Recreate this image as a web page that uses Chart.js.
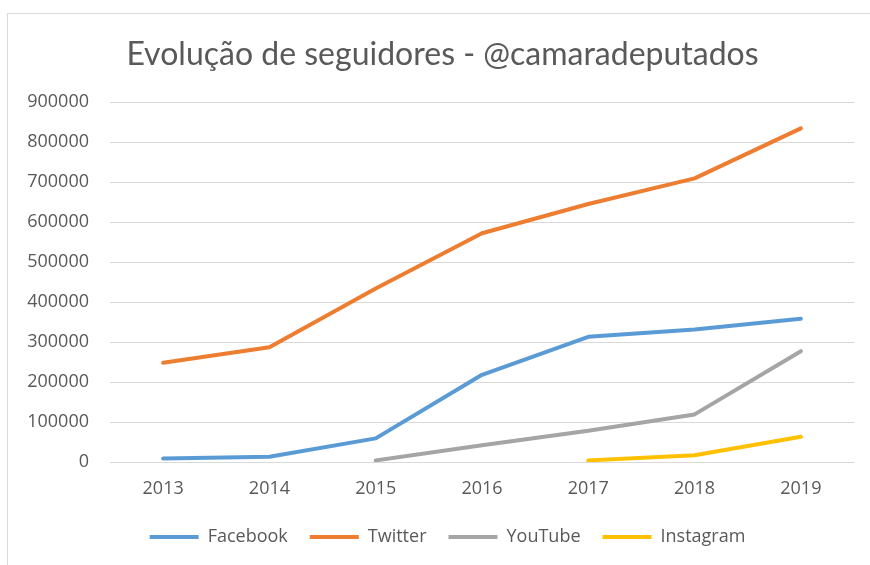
<!DOCTYPE html>
<html>
<head>
<meta charset="utf-8">
<title>Evolução de seguidores</title>
<script src="https://cdn.jsdelivr.net/npm/chart.js@4.4.1/dist/chart.umd.min.js"></script>
<style>
    html, body { margin: 0; padding: 0; background: #fff; }
    #frame {
        position: absolute; left: 7px; top: 13px;
        width: 900px; height: 600px;
        border: 1px solid #d9d9d9;
    }
    #wrap { position: absolute; left: 0; top: 0; width: 870px; height: 565px; }
</style>
</head>
<body>
<div id="frame"></div>
<div id="wrap"><canvas id="followersChart" width="870" height="565"></canvas></div>
<script>
// ====================================
// Data
// ====================================
var years = ['2013', '2014', '2015', '2016', '2017', '2018', '2019'];
var facebook  = [9000, 13000, 59000, 218000, 313000, 331000, 358000];
var twitter   = [248000, 287000, 434000, 572000, 645000, 709000, 834000];
var youtube   = [null, null, 4000, 42000, 78000, 119000, 277000];
var instagram = [null, null, null, null, 4000, 17000, 63000];

var textColor = '#595959';
var gridColor = '#d9d9d9';

function serie(label, data, color) {
    return {
        label: label,
        data: data,
        borderColor: color,
        backgroundColor: color,
        borderWidth: 4,
        borderCapStyle: 'round',
        borderJoinStyle: 'round',
        pointRadius: 0,
        pointHoverRadius: 0,
        tension: 0,
        spanGaps: false
    };
}

// ====================================
// Legend height + centring of title/legend inside the frame
// ====================================
var frameLayout = {
    id: 'frameLayout',
    beforeInit: function(chart) {
        var fit = chart.legend.fit;
        chart.legend.fit = function() {
            fit.bind(chart.legend)();
            this.height = 59;
        };
    },
    afterLayout: function(chart) {
        chart.legend.left = 41;
        chart.titleBlock.left = 31;
    }
};

var ctx = document.getElementById('followersChart').getContext('2d');
new Chart(ctx, {
    type: 'line',
    data: {
        labels: years,
        datasets: [
            serie('Facebook', facebook, '#5b9bd5'),
            serie('Twitter', twitter, '#ed7d31'),
            serie('YouTube', youtube, '#a5a5a5'),
            serie('Instagram', instagram, '#ffc000')
        ]
    },
    plugins: [frameLayout],
    options: {
        responsive: false,
        animation: false,
        layout: {
            padding: { left: 0, right: 16, top: 0, bottom: 0 }
        },
        plugins: {
            title: {
                display: true,
                text: 'Evolução de seguidores - @camaradeputados',
                color: textColor,
                font: { family: 'Lato', size: 32, weight: 'normal' },
                padding: { top: 35, bottom: 28.6 }
            },
            legend: {
                position: 'bottom',
                labels: {
                    color: textColor,
                    font: { family: 'Open Sans', size: 18 },
                    boxWidth: 49,
                    boxHeight: 4,
                    padding: 22,
                    generateLabels: function(chart) {
                        var items = Chart.defaults.plugins.legend.labels.generateLabels(chart);
                        items.forEach(function(item) {
                            item.fillStyle = item.strokeStyle;
                            item.lineWidth = 0;
                        });
                        return items;
                    }
                }
            },
            tooltip: { enabled: false }
        },
        scales: {
            x: {
                offset: true,
                grid: { display: false, drawTicks: false },
                border: { display: false },
                ticks: {
                    color: textColor,
                    font: { family: 'Open Sans', size: 18 },
                    padding: 16,
                    maxRotation: 0
                },
                afterFit: function(scale) { scale.height = 44; }
            },
            y: {
                min: 0,
                max: 900000,
                grid: { color: gridColor, lineWidth: 1, drawTicks: false },
                border: { display: false },
                ticks: {
                    stepSize: 100000,
                    color: textColor,
                    font: { family: 'Open Sans', size: 18 },
                    padding: 21,
                    callback: function(value) { return String(value); }
                },
                afterFit: function(scale) { scale.width = 110; }
            }
        }
    }
});
</script>
</body>
</html>
